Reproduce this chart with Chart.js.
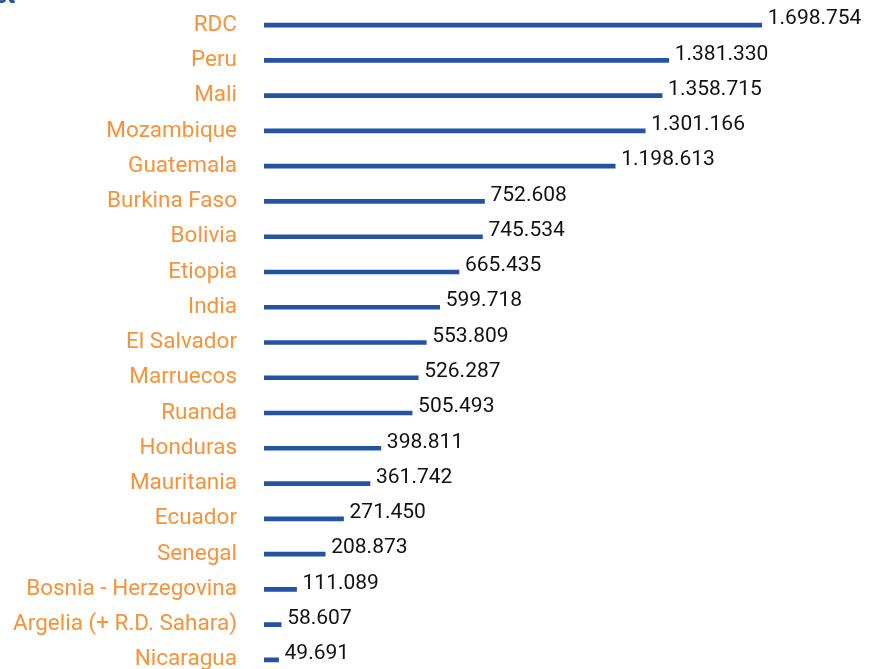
<!DOCTYPE html>
<html><head><meta charset="utf-8">
<script src="https://cdn.jsdelivr.net/npm/chart.js@4"></script>
<style>
html,body{margin:0;padding:0;background:#fff;overflow:hidden;width:876px;height:669px;}
#wrap{position:relative;width:876px;height:669px;overflow:hidden;}
#c{position:absolute;left:0;top:-33px;}
#ttl{position:absolute;left:-6px;top:-19px;font:bold 24px Roboto, sans-serif;color:#2452a4;}
</style></head><body>
<div id="wrap"><canvas id="c" width="876" height="751"></canvas><div id="ttl">et</div></div>
<script>
const categories = ["RDC","Peru","Mali","Mozambique","Guatemala","Burkina Faso","Bolivia","Etiopia","India","El Salvador","Marruecos","Ruanda","Honduras","Mauritania","Ecuador","Senegal","Bosnia - Herzegovina","Argelia (+ R.D. Sahara)","Nicaragua"];
const values = [1698754,1381330,1358715,1301166,1198613,752608,745534,665435,599718,553809,526287,505493,398811,361742,271450,208873,111089,58607,49691];
const valueLabels = ["1.698.754","1.381.330","1.358.715","1.301.166","1.198.613","752.608","745.534","665.435","599.718","553.809","526.287","505.493","398.811","361.742","271.450","208.873","111.089","58.607","49.691"];

const valuePlugin = {
  id:'valueLabels',
  afterDatasetsDraw(chart){
    const ctx = chart.ctx;
    const meta = chart.getDatasetMeta(0);
    ctx.save();
    ctx.font = '21px Roboto, sans-serif';
    ctx.fillStyle = '#111111';
    ctx.textAlign = 'left';
    ctx.textBaseline = 'middle';
    meta.data.forEach((bar,i)=>{
      ctx.fillText(valueLabels[i], bar.x + 6, bar.y - 6);
    });
    ctx.restore();
  }
};

new Chart(document.getElementById('c'), {
  type:'bar',
  data:{labels:categories, datasets:[{data:values, backgroundColor:'#2452a4', barThickness:4, borderWidth:0}]},
  options:{
    indexAxis:'y',
    responsive:false,
    animation:false,
    layout:{padding:{top:8,bottom:12,right:26,left:0}},
    plugins:{legend:{display:false},tooltip:{enabled:false}},
    scales:{
      x:{display:false,min:0,max:2000000},
      y:{
        grid:{display:false,drawTicks:false},
        border:{display:false},
        ticks:{color:'#f7923a',font:{family:'Roboto',size:22.5},padding:27},
        afterFit(s){ s.width = 264; }
      }
    }
  },
  plugins:[valuePlugin]
});
</script>
</body></html>
